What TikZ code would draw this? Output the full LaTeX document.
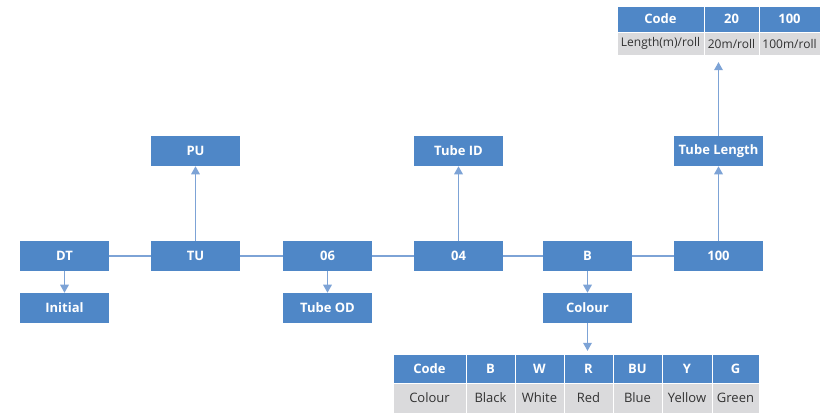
\documentclass[tikz,border=0pt]{standalone}
\usepackage{fontspec}
\setmainfont{Open Sans}
\usetikzlibrary{arrows.meta,positioning}
\definecolor{boxblue}{RGB}{79,135,199}
\definecolor{lineblue}{RGB}{125,163,214}
\definecolor{cellgray}{RGB}{218,218,220}
\definecolor{textgray}{RGB}{50,50,50}

\begin{document}
\begin{tikzpicture}[x=0.75pt, y=-0.75pt, >={Triangle[width=6.5pt,length=6pt]},
    every node/.style={font=\fontsize{9}{11}\selectfont},
    box/.style={fill=boxblue, text=white, font=\fontsize{9.75}{12}\selectfont\bfseries,
      minimum width=66.75pt, minimum height=22.5pt, inner sep=0pt},
    hcell/.style={fill=boxblue, draw=white, line width=0.75pt, text=white,
      font=\fontsize{9.75}{12}\selectfont\bfseries, inner sep=0pt},
    dcell/.style={fill=cellgray, draw=white, line width=0.75pt, text=textgray, inner sep=0pt},
    link/.style={draw=lineblue, line width=0.9pt},
    up/.style={link, ->, color=lineblue}]
  \useasboundingbox (0,0) rectangle (821,414);

  % Main row
  \node[box] (dt)   at (64.5,256)  {DT};
  \node[box] (tu)   at (195.5,256) {TU};
  \node[box] (od)   at (327.5,256) {06};
  \node[box] (id)   at (458.5,256) {04};
  \node[box] (col)  at (587.5,256) {B};
  \node[box] (len)  at (718.5,256) {100};
  \draw[link] (dt) -- (tu) -- (od) -- (id) -- (col) -- (len);

  % Labels below
  \node[box] (initial) at (64.5,308)  {Initial};
  \node[box] (tubeod)  at (327.5,308) {Tube OD};
  \node[box] (colour)  at (587.5,308) {Colour};
  \draw[up] (dt) -- (initial);
  \draw[up] (od) -- (tubeod);
  \draw[up] (col) -- (colour);

  % Labels above
  \node[box] (pu)      at (195.5,151) {PU};
  \node[box] (tubeid)  at (458.5,151) {Tube ID};
  \node[box] (tubelen) at (718.5,151) {Tube Length};
  \draw[up] (tu) -- (pu);
  \draw[up] (id) -- (tubeid);
  \draw[up] (len) -- (tubelen);

  % Length table
  \foreach \n/\head/\val/\xl/\xr in {a/Code/Length(m)\slash roll/617/704,
      b/20/20m\slash roll/704/759, c/100/100m\slash roll/759/820} {
    \node[hcell, minimum width={(\xr-\xl)*0.75pt}, minimum height=19.5pt]
      (lh\n) at ({(\xl+\xr)/2},19) {\head};
    \node[dcell, minimum width={(\xr-\xl)*0.75pt}, minimum height=17.25pt]
      (lv\n) at ({(\xl+\xr)/2},43.5) {\val};
  }
  \draw[up, shorten >=5pt] (tubelen) -- (tubelen.north |- lvb.south);

  % Colour table
  \foreach \n/\head/\val/\xl/\xr in {a/Code/Colour/393/466, b/B/Black/466/515,
      w/W/White/515/564, r/R/Red/564/613, u/BU/Blue/613/662,
      y/Y/Yellow/662/712, g/G/Green/712/759} {
    \node[hcell, minimum width={(\xr-\xl)*0.75pt}, minimum height=21.75pt]
      (ch\n) at ({(\xl+\xr)/2},368.5) {\head};
    \node[dcell, minimum width={(\xr-\xl)*0.75pt}, minimum height=22.5pt,
      font=\fontsize{9.75}{12}\selectfont]
      (cv\n) at ({(\xl+\xr)/2},398) {\val};
  }
  \draw[up, shorten >=2pt] (colour) -- (colour.south |- chr.north);
\end{tikzpicture}
\end{document}
